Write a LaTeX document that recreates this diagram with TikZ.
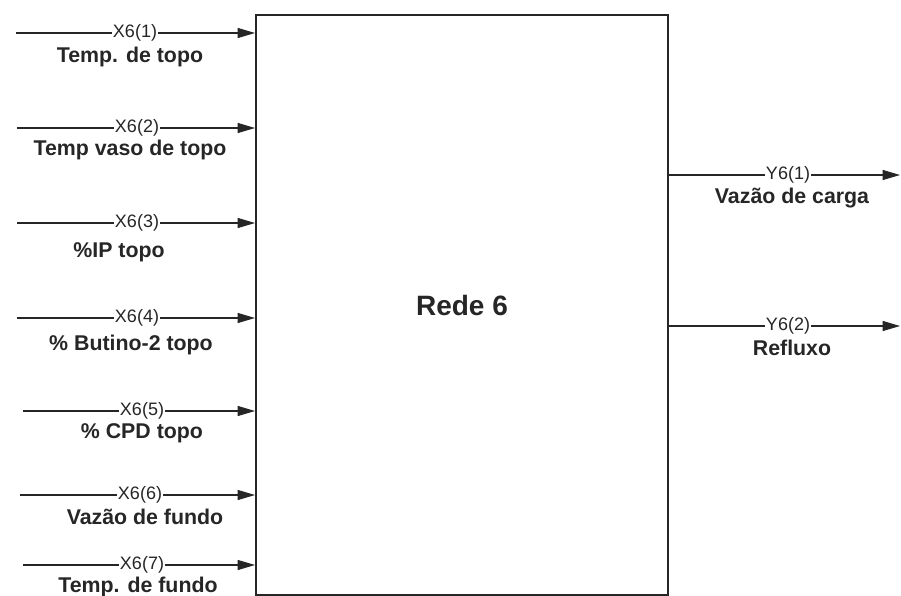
\documentclass[tikz,border=0pt]{standalone}
\usepackage{fontspec}
\setmainfont{Liberation Sans}
\usetikzlibrary{arrows.meta,positioning}
\definecolor{ink}{HTML}{262626}
\tikzset{
  sig/.style={draw=ink, line width=0.8pt, -{Triangle[length=13pt,width=7.5pt]}},
  tag/.style={fill=white, inner sep=1pt, text=ink, font=\fontsize{13.5}{14}\selectfont},
  desc/.style={inner sep=0pt, text=ink, font=\bfseries\fontsize{16}{18}\selectfont},
}

\begin{document}
\begin{tikzpicture}[x=0.75pt,y=-0.75pt]
\useasboundingbox (0,0) rectangle (901,596);
% the network block
\node[draw=ink, line width=1.5pt, minimum width=309pt, minimum height=435pt, inner sep=0pt,
  text=ink, font=\bfseries\fontsize{21}{24}\selectfont] (rede) at (462,305) {Rede 6};

% inputs
\coordinate (x1) at (16,33);
\draw[sig] (x1) -- (x1 -| rede.west);
\node[tag] (t1) at (135,33) {X6(1)};
\node[desc] (d1) at (130,57) {Temp. de topo};

\coordinate (x2) at (17,128);
\draw[sig] (x2) -- (x2 -| rede.west);
\node[tag] (t2) at (137,128) {X6(2)};
\node[desc] (d2) at (130,150) {Temp vaso de topo};

\coordinate (x3) at (17,223);
\draw[sig] (x3) -- (x3 -| rede.west);
\node[tag] (t3) at (137,223) {X6(3)};
\node[desc] (d3) at (119,252) {\%IP topo};

\coordinate (x4) at (17,318);
\draw[sig] (x4) -- (x4 -| rede.west);
\node[tag] (t4) at (137,318) {X6(4)};
\node[desc] (d4) at (131,345) {\% Butino-2 topo};

\coordinate (x5) at (23,411);
\draw[sig] (x5) -- (x5 -| rede.west);
\node[tag] (t5) at (142,411) {X6(5)};
\node[desc] (d5) at (142,433) {\% CPD topo};

\coordinate (x6) at (20,495);
\draw[sig] (x6) -- (x6 -| rede.west);
\node[tag] (t6) at (140,495) {X6(6)};
\node[desc] (d6) at (145,517) {Vazão de fundo};

\coordinate (x7) at (23,565);
\draw[sig] (x7) -- (x7 -| rede.west);
\node[tag] (t7) at (142,565) {X6(7)};
\node[desc] (d7) at (138,587) {Temp. de fundo};

% outputs
\coordinate (y1) at (900,175);
\draw[sig] (y1 -| rede.east) -- (y1);
\node[tag] (u1) at (788,175) {Y6(1)};
\node[desc] (e1) at (792,198) {Vazão de carga};

\coordinate (y2) at (900,326);
\draw[sig] (y2 -| rede.east) -- (y2);
\node[tag] (u2) at (788,326) {Y6(2)};
\node[desc] (e2) at (792,348) {Refluxo};
\end{tikzpicture}
\end{document}
